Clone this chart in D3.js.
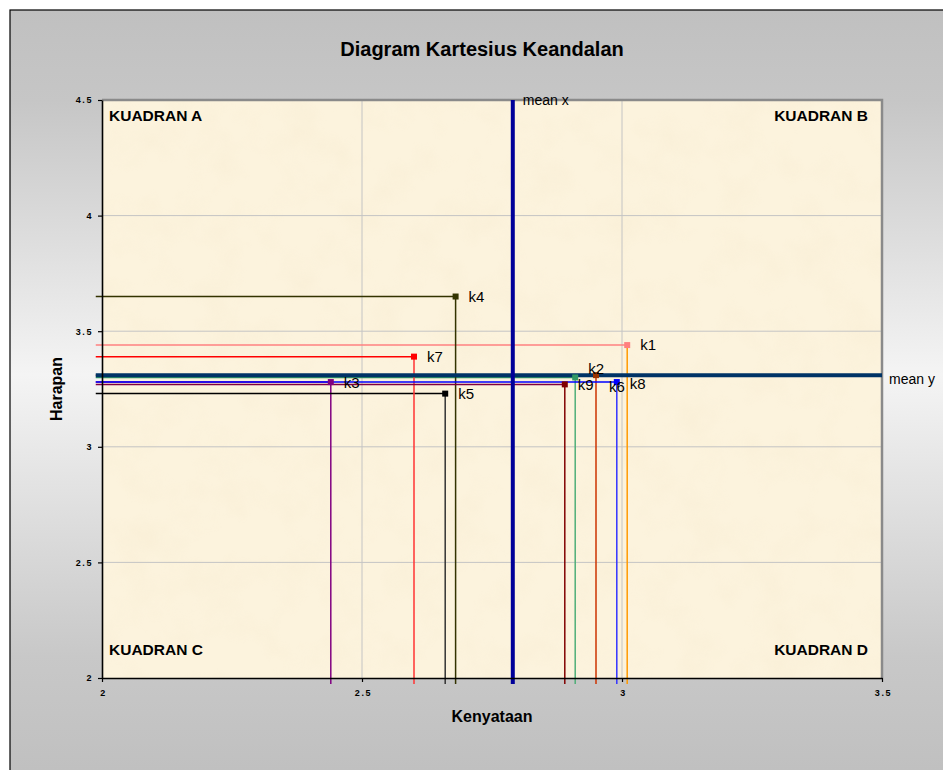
<!DOCTYPE html>
<html>
<head>
<meta charset="utf-8">
<script src="https://cdn.jsdelivr.net/npm/d3@7"></script>
<style>
  html, body { margin: 0; padding: 0; background: #fff; }
  svg { display: block; font-family: "Liberation Sans", Arial, sans-serif; }
</style>
</head>
<body>
<div id="chart"></div>
<script>
// data
const labels    = ["k1", "k2", "k3", "k4", "k5", "k6", "k7", "k8", "k9"];
const kenyataan = [3.01, 2.91, 2.44, 2.68, 2.66, 2.95, 2.60, 2.99, 2.89];
const harapan   = [3.44, 3.30, 3.28, 3.65, 3.23, 3.31, 3.39, 3.28, 3.27];
const meanX = 2.79;
const meanY = 3.31;
const xTicks = [2, 2.5, 3, 3.5];
const yTicks = [2, 2.5, 3, 3.5, 4, 4.5];
const quadrants = ["KUADRAN A", "KUADRAN B", "KUADRAN C", "KUADRAN D"];
// drop lines start a little outside the axes, like the excel error bars
const lineStartX = 1.988;
const lineStartY = 1.974;

// styles
const hColor = ["#ff8080", "#339966", "#800080", "#333300", "#000000", "#993300", "#ff0000", "#0000ff", "#800040"];
const vColor = ["#ff9900", "#4fae78", "#800080", "#333300", "#333333", "#cc3300", "#ff3333", "#3333ff", "#800000"];
const mColor = ["#ff8080", "#339966", "#800080", "#333300", "#000000", "#993300", "#ff0000", "#0000ff", "#800000"];
const labelNudge = [0, -9, 1, 0, 0, 11, 0, 2, 0];

const W = 943, H = 770;
const svg = d3.select("#chart").append("svg").attr("width", W).attr("height", H);
const defs = svg.append("defs");

const bg = defs.append("linearGradient").attr("id", "bg")
  .attr("gradientUnits", "userSpaceOnUse").attr("x1", 0).attr("y1", 10).attr("x2", 0).attr("y2", 770);
bg.append("stop").attr("offset", "0").attr("stop-color", "#c0c0c0");
bg.append("stop").attr("offset", "0.12").attr("stop-color", "#c6c6c6");
bg.append("stop").attr("offset", "0.48").attr("stop-color", "#f4f4f4");
bg.append("stop").attr("offset", "0.85").attr("stop-color", "#c8c8c8");
bg.append("stop").attr("offset", "1").attr("stop-color", "#c0c0c0");

const paper = defs.append("filter").attr("id", "paper").attr("x", 0).attr("y", 0).attr("width", 1).attr("height", 1);
paper.append("feTurbulence").attr("type", "fractalNoise").attr("baseFrequency", "0.025").attr("numOctaves", 3).attr("seed", 7);
paper.append("feColorMatrix").attr("type", "matrix")
  .attr("values", "0 0 0 0 0.86  0 0 0 0 0.74  0 0 0 0 0.52  0.9 0 0 0 -0.38");

// chart area
svg.append("rect").attr("x", 10).attr("y", 10).attr("width", W + 20).attr("height", H + 20)
  .attr("fill", "url(#bg)").attr("stroke", "#000").attr("stroke-width", 1.2);

const x = d3.scaleLinear().domain([2, 3.5]).range([102, 882]);
const y = d3.scaleLinear().domain([2, 4.5]).range([678, 100]);

// plot area
svg.append("rect").attr("x", x(2)).attr("y", y(4.5)).attr("width", x(3.5) - x(2)).attr("height", y(2) - y(4.5))
  .attr("fill", "#fcf3dd");
svg.append("rect").attr("x", x(2)).attr("y", y(4.5)).attr("width", x(3.5) - x(2)).attr("height", y(2) - y(4.5))
  .attr("filter", "url(#paper)").attr("opacity", 0.35);

// gridlines
svg.append("g").selectAll("line").data(xTicks.slice(1, -1)).join("line")
  .attr("x1", d => x(d)).attr("x2", d => x(d)).attr("y1", y(2)).attr("y2", y(4.5))
  .attr("stroke", "#c4c4c4").attr("stroke-width", 1);
svg.append("g").selectAll("line").data(yTicks.slice(1, -1)).join("line")
  .attr("y1", d => y(d)).attr("y2", d => y(d)).attr("x1", x(2)).attr("x2", x(3.5))
  .attr("stroke", "#c4c4c4").attr("stroke-width", 1);

// plot border (top/right grey)
svg.append("path")
  .attr("d", `M${x(2)},${y(4.5)}H${x(3.5)}V${y(2)}`)
  .attr("fill", "none").attr("stroke", "#8a8a8a").attr("stroke-width", 2.5);

// quadrant labels
const qPos = [[2, 4.5, "start"], [3.5, 4.5, "end"], [2, 2, "start"], [3.5, 2, "end"]];
svg.append("g").selectAll("text").data(quadrants).join("text")
  .attr("x", (d, i) => x(qPos[i][0]) + (qPos[i][2] === "start" ? 7 : -14))
  .attr("y", (d, i) => y(qPos[i][1]) + (qPos[i][1] > 3 ? 21 : -23))
  .attr("text-anchor", (d, i) => qPos[i][2])
  .attr("font-size", 15.5).attr("font-weight", "bold").attr("fill", "#000")
  .text(d => d);

const pts = labels.map((k, i) => ({ k, x: kenyataan[i], y: harapan[i], i }));

// drop lines
const drops = svg.append("g");
pts.forEach(p => {
  drops.append("line")
    .attr("x1", x(lineStartX)).attr("x2", x(p.x)).attr("y1", y(p.y)).attr("y2", y(p.y))
    .attr("stroke", hColor[p.i]).attr("stroke-width", 1.5);
  drops.append("line")
    .attr("x1", x(p.x)).attr("x2", x(p.x)).attr("y1", y(p.y)).attr("y2", y(lineStartY))
    .attr("stroke", vColor[p.i]).attr("stroke-width", 1.5);
});

// mean lines
svg.append("line").attr("x1", x(lineStartX)).attr("x2", x(3.5)).attr("y1", y(meanY)).attr("y2", y(meanY))
  .attr("stroke", "#003366").attr("stroke-width", 4);
svg.append("line").attr("x1", x(meanX)).attr("x2", x(meanX)).attr("y1", y(4.5)).attr("y2", y(lineStartY))
  .attr("stroke", "#000099").attr("stroke-width", 4);
svg.append("text").attr("x", x(meanX) + 10).attr("y", y(4.5) + 5)
  .attr("font-size", 14).text("mean x");
svg.append("text").attr("x", x(3.5) + 7).attr("y", y(meanY) + 9)
  .attr("font-size", 14).text("mean y");

// axes
const xAxis = svg.append("g").attr("transform", `translate(0,${y(2)})`)
  .call(d3.axisBottom(x).tickValues(xTicks).tickSize(4).tickSizeOuter(0).tickPadding(8).tickFormat(d3.format("")));
const yAxis = svg.append("g").attr("transform", `translate(${x(2)},0)`)
  .call(d3.axisLeft(y).tickValues(yTicks).tickSize(4).tickSizeOuter(0).tickPadding(5).tickFormat(d3.format("")));
[xAxis, yAxis].forEach(a => {
  a.select(".domain").attr("stroke", "#000").attr("stroke-width", 1.6);
  a.selectAll(".tick line").attr("stroke", "#000").attr("stroke-width", 1.2);
  a.selectAll(".tick text").attr("font-size", 9).attr("font-weight", "bold")
    .attr("letter-spacing", 1.6).attr("fill", "#000")
    .attr("font-family", "'Liberation Sans', Arial, sans-serif");
});
xAxis.selectAll(".tick text").attr("dx", 1);

// markers
svg.append("g").selectAll("rect").data(pts).join("rect")
  .attr("x", d => x(d.x) - 3).attr("y", d => y(d.y) - 3).attr("width", 6).attr("height", 6)
  .attr("fill", d => mColor[d.i]);

// point labels
svg.append("g").selectAll("text").data(pts).join("text")
  .attr("x", d => x(d.x) + 13).attr("y", d => y(d.y) + labelNudge[d.i])
  .attr("dy", "0.36em").attr("font-size", 15).attr("fill", "#000")
  .text(d => d.k);

// titles
svg.append("text").attr("x", (x(2) + x(3.5)) / 2 - 10).attr("y", 56).attr("text-anchor", "middle")
  .attr("font-size", 20).attr("font-weight", "bold").text("Diagram Kartesius Keandalan");
svg.append("text").attr("x", (x(2) + x(3.5)) / 2).attr("y", 722).attr("text-anchor", "middle")
  .attr("font-size", 16).attr("font-weight", "bold").text("Kenyataan");
svg.append("text").attr("transform", `translate(62,${(y(2) + y(4.5)) / 2}) rotate(-90)`)
  .attr("text-anchor", "middle").attr("font-size", 16).attr("font-weight", "bold").text("Harapan");
</script>
</body>
</html>
